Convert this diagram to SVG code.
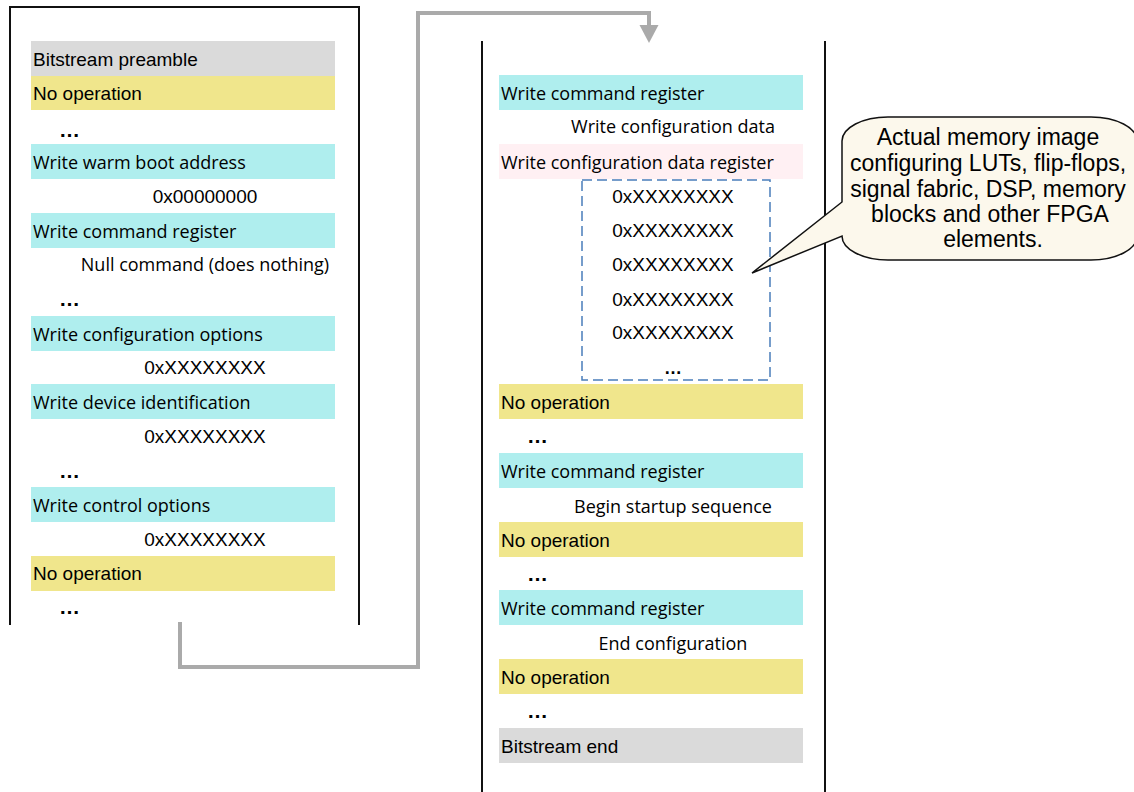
<svg xmlns="http://www.w3.org/2000/svg" width="1134" height="792" viewBox="0 0 1134 792">
<defs>
<style>
.gray{fill:#dadada}
.yel{fill:#f0e68c}
.cyan{fill:#afeeee}
.pink{fill:#fff0f3}
.os{font-family:"Open Sans","Noto Sans",sans-serif;font-size:18px;fill:#000}
.ar{font-family:"Liberation Sans",Arial,sans-serif;font-size:19px;fill:#000}
.mid{text-anchor:middle}
.dots{font-family:"Liberation Sans",Arial,sans-serif;font-size:21px;font-weight:bold;fill:#000}
.panel{fill:none;stroke:#111;stroke-width:2}
.conn{fill:none;stroke:#aaaaaa;stroke-width:4}
.callout{font-family:"Liberation Sans",Arial,sans-serif;font-size:23px;fill:#000;text-anchor:middle}
</style>
<marker id="ah" markerUnits="userSpaceOnUse" markerWidth="20" markerHeight="20" refX="0" refY="9.5" orient="auto">
<path d="M0,0 L18,9.5 L0,19 Z" fill="#aaaaaa"/>
</marker>
</defs>
<rect width="1134" height="792" fill="#ffffff"/>

<g id="left-panel">
<path class="panel" d="M10,625 V7 H359 V625"/>
<rect class="gray" x="31" y="41" width="304" height="35"/>
<text class="ar" x="33" y="66">Bitstream preamble</text>
<rect class="yel" x="31" y="76" width="304" height="34"/>
<text class="ar" x="33" y="100">No operation</text>
<text class="dots" x="59" y="137">…</text>
<rect class="cyan" x="31" y="144" width="304" height="35"/>
<text class="os" x="33" y="169">Write warm boot address</text>
<text class="ar mid" x="205" y="203">0x00000000</text>
<rect class="cyan" x="31" y="213" width="304" height="35"/>
<text class="os" x="33" y="238">Write command register</text>
<text class="os mid" x="205" y="271">Null command (does nothing)</text>
<text class="dots" x="59" y="306">…</text>
<rect class="cyan" x="31" y="316" width="304" height="35"/>
<text class="os" x="33" y="341">Write configuration options</text>
<text class="ar mid" x="205" y="374">0xXXXXXXXX</text>
<rect class="cyan" x="31" y="384" width="304" height="35"/>
<text class="os" x="33" y="409">Write device identification</text>
<text class="ar mid" x="205" y="443">0xXXXXXXXX</text>
<text class="dots" x="59" y="478">…</text>
<rect class="cyan" x="31" y="487" width="304" height="35"/>
<text class="os" x="33" y="512">Write control options</text>
<text class="ar mid" x="205" y="546">0xXXXXXXXX</text>
<rect class="yel" x="31" y="556" width="304" height="35"/>
<text class="ar" x="33" y="580">No operation</text>
<text class="dots" x="59" y="614">…</text>
</g>

<g id="right-panel">
<line class="panel" x1="482" y1="41" x2="482" y2="792"/>
<line class="panel" x1="825" y1="41" x2="825" y2="792"/>
<rect class="cyan" x="499" y="75" width="304" height="35"/>
<text class="os" x="501" y="100">Write command register</text>
<text class="os mid" x="673" y="133">Write configuration data</text>
<rect class="pink" x="499" y="144" width="304" height="35"/>
<text class="os" x="501" y="169">Write configuration data register</text>
</g>

<g id="config-data">
<rect x="582" y="180" width="188" height="200" fill="none" stroke="#4a7ebb" stroke-width="1.5" stroke-dasharray="10,5"/>
<text class="ar mid" x="673" y="203">0xXXXXXXXX</text>
<text class="ar mid" x="673" y="237">0xXXXXXXXX</text>
<text class="ar mid" x="673" y="271">0xXXXXXXXX</text>
<text class="ar mid" x="673" y="306">0xXXXXXXXX</text>
<text class="ar mid" x="673" y="339">0xXXXXXXXX</text>
<text class="dots mid" x="673" y="374" style="font-size:18px">…</text>
</g>

<g id="right-panel-tail">
<rect class="yel" x="499" y="384" width="304" height="35"/>
<text class="ar" x="501" y="409">No operation</text>
<text class="dots" x="527" y="443">…</text>
<rect class="cyan" x="499" y="453" width="304" height="35"/>
<text class="os" x="501" y="478">Write command register</text>
<text class="os mid" x="673" y="513">Begin startup sequence</text>
<rect class="yel" x="499" y="522" width="304" height="35"/>
<text class="ar" x="501" y="547">No operation</text>
<text class="dots" x="527" y="581">…</text>
<rect class="cyan" x="499" y="590" width="304" height="35"/>
<text class="os" x="501" y="615">Write command register</text>
<text class="os mid" x="673" y="650">End configuration</text>
<rect class="yel" x="499" y="659" width="304" height="35"/>
<text class="ar" x="501" y="684">No operation</text>
<text class="dots" x="527" y="718">…</text>
<rect class="gray" x="499" y="728" width="304" height="35"/>
<text class="ar" x="501" y="753">Bitstream end</text>
</g>

<g id="callout">
<path d="M888,117 H1091 A46,24 0 0 1 1137,141 V236 A46,24 0 0 1 1091,260 H888 A46,24 0 0 1 842,236 L752,273 L842,202 V141 A46,24 0 0 1 888,117 Z" fill="#fcf8ec" stroke="#111" stroke-width="1.5"/>
<text class="callout" x="988" y="145">Actual memory image</text>
<text class="callout" x="988" y="171">configuring LUTs, flip-flops,</text>
<text class="callout" x="988" y="197">signal fabric, DSP, memory</text>
<text class="callout" x="990" y="222">blocks and other FPGA</text>
<text class="callout" x="993" y="247">elements.</text>
</g>

<g id="connectors">
<path class="conn" d="M180,622 V667 H418 V13 H649 V25" marker-end="url(#ah)"/>
</g>
</svg>
